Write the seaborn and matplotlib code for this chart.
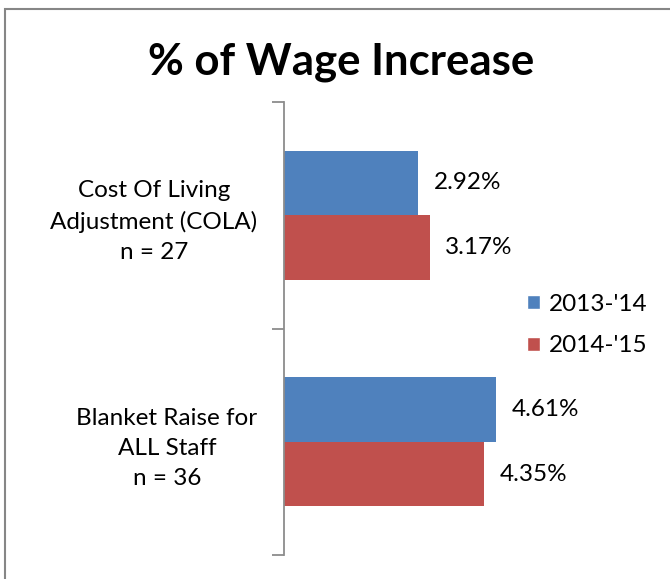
import pandas as pd
import matplotlib.pyplot as plt
import seaborn as sns
from matplotlib.patches import Rectangle, Patch

# Data
categories = ["Cost Of Living\nAdjustment (COLA)\nn = 27",
              "Blanket Raise for\nALL Staff\nn = 36"]
years = ["2013-'14", "2014-'15"]
vals_1314 = [2.92, 4.61]
vals_1415 = [3.17, 4.35]
colors = ["#4F81BD", "#C0504D"]

df = pd.DataFrame({
    "cat": categories * 2,
    "year": [years[0]] * 2 + [years[1]] * 2,
    "value": vals_1314 + vals_1415,
})

sns.set_style("white")
plt.rcParams['font.family'] = ['Lato', 'DejaVu Sans']
plt.rcParams['text.color'] = 'black'
plt.rcParams['ytick.labelcolor'] = 'black'

fig = plt.figure(figsize=(6.70, 5.79), dpi=100)
ax = fig.add_axes([284 / 670, 1 - 555 / 579, 230 / 670, (555 - 102) / 579])

sns.barplot(data=df, y="cat", x="value", hue="year", palette=colors,
            order=categories, hue_order=years, width=0.57,
            orient="h", ax=ax, legend=False, saturation=1, linewidth=0)

# value labels
for cont in ax.containers:
    ax.bar_label(cont, labels=[f"{v:.2f}%" for v in cont.datavalues],
                 padding=11, fontsize=17.5, color="black")

ax.set_xlim(0, 5)
ax.set_ylim(1.5, -0.5)
ax.set_xlabel("")
ax.set_ylabel("")
ax.set_xticks([])

# category labels on major ticks, tick marks between categories
ax.set_yticks([0, 1])
ax.set_yticklabels(categories, fontsize=17.5, multialignment="center",
                   linespacing=1.53, color="black")
ax.tick_params(axis="y", which="major", length=0, pad=19)
ax.set_yticks([-0.5, 0.5, 1.5], minor=True)
ax.tick_params(axis="y", which="minor", length=9, width=1.3,
               color="#8c8c8c", left=True)

for s in ["top", "right", "bottom"]:
    ax.spines[s].set_visible(False)
ax.spines["left"].set_color("#8c8c8c")
ax.spines["left"].set_linewidth(1.3)

# title
fig.text(341 / 670, 1 - 62 / 579, "% of Wage Increase", ha="center",
         va="center", fontsize=31.5, fontweight="bold", color="black")

# legend
handles = [Patch(facecolor=c, label=y) for c, y in zip(colors, years)]
fig.legend(handles=handles, loc="center left",
           bbox_to_anchor=(527 / 670, 1 - 325 / 579), frameon=False,
           fontsize=17.5, handlelength=0.55, handleheight=0.55,
           handletextpad=0.35, labelspacing=0.86, borderpad=0,
           borderaxespad=0, labelcolor="black")

# chart border
fig.patches.append(Rectangle((5 / 670, -0.1), 1.1, 1 + 0.1 - 9 / 579,
                             transform=fig.transFigure, fill=False,
                             edgecolor="#868686", linewidth=1.5))

fig.savefig("out.png", dpi=100)
